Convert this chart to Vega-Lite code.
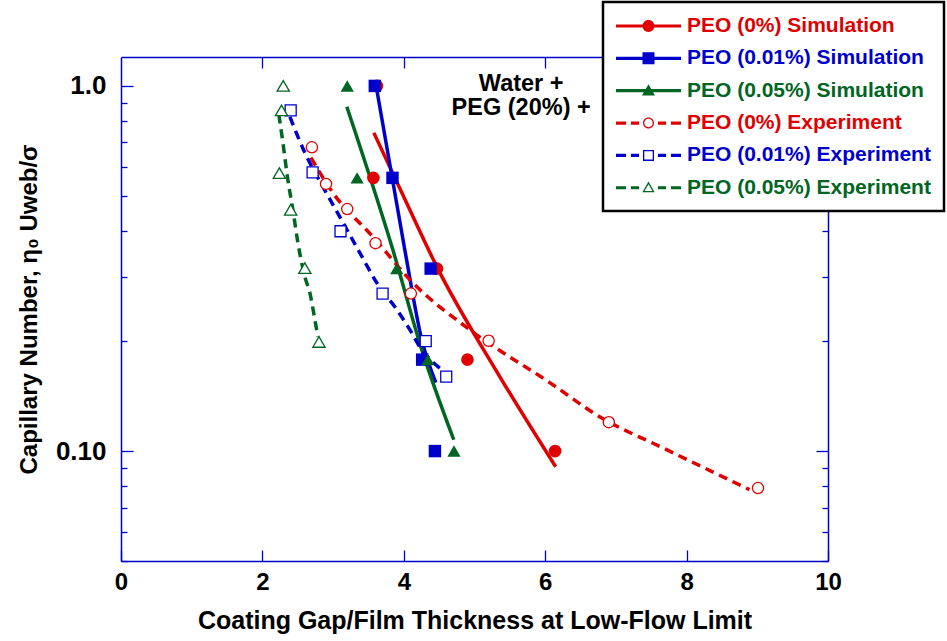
{
  "$schema": "https://vega.github.io/schema/vega-lite/v6.json",
  "width": 707,
  "height": 504,
  "autosize": {"type": "none"},
  "padding": {"left": 121, "top": 57, "right": 119, "bottom": 80},
  "background": "white",
  "config": {
    "view": {"stroke": null},
    "font": "Liberation Sans",
    "legend": {"strokeWidth": 2.5},
    "axis": {
      "domainColor": "#0000cc",
      "domainWidth": 1.5,
      "tickColor": "#0000cc",
      "tickWidth": 1.3,
      "grid": false,
      "labelColor": "black",
      "titleColor": "black",
      "labelFontWeight": "bold",
      "titleFontWeight": "bold",
      "labelFont": "Liberation Sans",
      "titleFont": "Liberation Sans"
    }
  },
  "datasets": {
    "simPts": [
      {"series": "PEO (0%) Simulation", "x": 3.62, "y": 1.0},
      {"series": "PEO (0%) Simulation", "x": 3.57, "y": 0.56},
      {"series": "PEO (0%) Simulation", "x": 4.47, "y": 0.316},
      {"series": "PEO (0%) Simulation", "x": 4.90, "y": 0.178},
      {"series": "PEO (0%) Simulation", "x": 6.14, "y": 0.1},
      {"series": "PEO (0.01%) Simulation", "x": 3.59, "y": 1.0},
      {"series": "PEO (0.01%) Simulation", "x": 3.84, "y": 0.56},
      {"series": "PEO (0.01%) Simulation", "x": 4.38, "y": 0.316},
      {"series": "PEO (0.01%) Simulation", "x": 4.26, "y": 0.178},
      {"series": "PEO (0.01%) Simulation", "x": 4.44, "y": 0.1},
      {"series": "PEO (0.05%) Simulation", "x": 3.20, "y": 1.0},
      {"series": "PEO (0.05%) Simulation", "x": 3.34, "y": 0.56},
      {"series": "PEO (0.05%) Simulation", "x": 3.90, "y": 0.316},
      {"series": "PEO (0.05%) Simulation", "x": 4.34, "y": 0.178},
      {"series": "PEO (0.05%) Simulation", "x": 4.71, "y": 0.1}
    ],
    "expPts": [
      {"series": "PEO (0%) Experiment", "x": 2.70, "y": 0.679},
      {"series": "PEO (0%) Experiment", "x": 2.90, "y": 0.539},
      {"series": "PEO (0%) Experiment", "x": 3.20, "y": 0.460},
      {"series": "PEO (0%) Experiment", "x": 3.60, "y": 0.371},
      {"series": "PEO (0%) Experiment", "x": 4.10, "y": 0.270},
      {"series": "PEO (0%) Experiment", "x": 5.20, "y": 0.2005},
      {"series": "PEO (0%) Experiment", "x": 6.90, "y": 0.120},
      {"series": "PEO (0%) Experiment", "x": 9.01, "y": 0.0792},
      {"series": "PEO (0.01%) Experiment", "x": 2.40, "y": 0.857},
      {"series": "PEO (0.01%) Experiment", "x": 2.71, "y": 0.580},
      {"series": "PEO (0.01%) Experiment", "x": 3.105, "y": 0.40},
      {"series": "PEO (0.01%) Experiment", "x": 3.70, "y": 0.270},
      {"series": "PEO (0.01%) Experiment", "x": 4.31, "y": 0.20},
      {"series": "PEO (0.01%) Experiment", "x": 4.60, "y": 0.160},
      {"series": "PEO (0.05%) Experiment", "x": 2.295, "y": 1.0},
      {"series": "PEO (0.05%) Experiment", "x": 2.27, "y": 0.857},
      {"series": "PEO (0.05%) Experiment", "x": 2.24, "y": 0.577},
      {"series": "PEO (0.05%) Experiment", "x": 2.40, "y": 0.458},
      {"series": "PEO (0.05%) Experiment", "x": 2.60, "y": 0.317},
      {"series": "PEO (0.05%) Experiment", "x": 2.80, "y": 0.199}
    ],
    "simCurves": [
      {"series": "PEO (0%) Simulation", "x": 3.576, "y": 0.744},
      {"series": "PEO (0%) Simulation", "x": 4.04, "y": 0.478},
      {"series": "PEO (0%) Simulation", "x": 4.466, "y": 0.320},
      {"series": "PEO (0%) Simulation", "x": 5.357, "y": 0.160},
      {"series": "PEO (0%) Simulation", "x": 6.148, "y": 0.0906},
      {"series": "PEO (0.01%) Simulation", "x": 3.618, "y": 0.976},
      {"series": "PEO (0.01%) Simulation", "x": 4.014, "y": 0.356},
      {"series": "PEO (0.01%) Simulation", "x": 4.254, "y": 0.2018},
      {"series": "PEO (0.01%) Simulation", "x": 4.452, "y": 0.154},
      {"series": "PEO (0.05%) Simulation", "x": 3.194, "y": 0.877},
      {"series": "PEO (0.05%) Simulation", "x": 3.845, "y": 0.356},
      {"series": "PEO (0.05%) Simulation", "x": 4.254, "y": 0.1896},
      {"series": "PEO (0.05%) Simulation", "x": 4.707, "y": 0.1074}
    ],
    "expCurves": [
      {"series": "PEO (0%) Experiment", "x": 2.686, "y": 0.636},
      {"series": "PEO (0%) Experiment", "x": 2.996, "y": 0.510},
      {"series": "PEO (0%) Experiment", "x": 3.562, "y": 0.3865},
      {"series": "PEO (0%) Experiment", "x": 4.127, "y": 0.289},
      {"series": "PEO (0%) Experiment", "x": 4.933, "y": 0.215},
      {"series": "PEO (0%) Experiment", "x": 6.064, "y": 0.154},
      {"series": "PEO (0%) Experiment", "x": 6.770, "y": 0.1242},
      {"series": "PEO (0%) Experiment", "x": 7.717, "y": 0.1009},
      {"series": "PEO (0%) Experiment", "x": 8.890, "y": 0.0784},
      {"series": "PEO (0.01%) Experiment", "x": 2.389, "y": 0.823},
      {"series": "PEO (0.01%) Experiment", "x": 2.601, "y": 0.656},
      {"series": "PEO (0.01%) Experiment", "x": 2.855, "y": 0.530},
      {"series": "PEO (0.01%) Experiment", "x": 3.095, "y": 0.438},
      {"series": "PEO (0.01%) Experiment", "x": 3.378, "y": 0.349},
      {"series": "PEO (0.01%) Experiment", "x": 3.618, "y": 0.289},
      {"series": "PEO (0.01%) Experiment", "x": 3.901, "y": 0.244},
      {"series": "PEO (0.01%) Experiment", "x": 4.085, "y": 0.215},
      {"series": "PEO (0.01%) Experiment", "x": 4.226, "y": 0.193},
      {"series": "PEO (0.01%) Experiment", "x": 4.537, "y": 0.167},
      {"series": "PEO (0.05%) Experiment", "x": 2.233, "y": 0.834},
      {"series": "PEO (0.05%) Experiment", "x": 2.290, "y": 0.699},
      {"series": "PEO (0.05%) Experiment", "x": 2.360, "y": 0.553},
      {"series": "PEO (0.05%) Experiment", "x": 2.431, "y": 0.458},
      {"series": "PEO (0.05%) Experiment", "x": 2.502, "y": 0.372},
      {"series": "PEO (0.05%) Experiment", "x": 2.601, "y": 0.300},
      {"series": "PEO (0.05%) Experiment", "x": 2.671, "y": 0.2715},
      {"series": "PEO (0.05%) Experiment", "x": 2.742, "y": 0.229},
      {"series": "PEO (0.05%) Experiment", "x": 2.784, "y": 0.2057}
    ],
    "notes": [
      {"text": "Water +|PEG (20%) +", "x": 5.66, "y": 0.9665}
    ]
  },
  "layer": [
    {
      "data": {"name": "simPts"},
      "mark": {"type": "point", "opacity": 0},
      "encoding": {
        "x": {"field": "x", "type": "quantitative", "scale": {"domain": [0, 10], "nice": false, "zero": false},
          "axis": {"orient": "bottom", "values": [0, 2, 4, 6, 8, 10], "tickSize": -11, "labelPadding": 20, "labelFontSize": 24, "labelFont": "Liberation Sans Narrow, Liberation Sans", "labelFlush": false, "format": "d", "title": "Coating Gap/Film Thickness at Low-Flow Limit", "titleFontSize": 25, "titlePadding": 14}},
        "y": {"field": "y", "type": "quantitative", "scale": {"type": "log", "domain": [0.05, 1.2], "nice": false},
          "axis": {"orient": "left", "values": [0.1, 1], "tickSize": -12, "labelPadding": 27, "labelFontSize": 26, "labelExpr": "datum.value >= 1 ? '1.0' : '0.10'", "title": "Capillary Number, η₀ Uweb/σ", "titleFontSize": 24, "titlePadding": 14}}
      }
    },
    {
      "data": {"name": "simPts"},
      "mark": {"type": "point", "opacity": 0},
      "encoding": {
        "x": {"field": "x", "type": "quantitative", "scale": {"domain": [0, 10], "nice": false, "zero": false},
          "axis": {"orient": "top", "values": [2, 4, 6, 8], "tickSize": -11, "labels": false, "title": null}},
        "y": {"field": "y", "type": "quantitative", "scale": {"type": "log", "domain": [0.05, 1.2], "nice": false},
          "axis": {"orient": "right", "values": [0.1, 1], "tickSize": -12, "labels": false, "title": null}}
      }
    },
    {
      "data": {"name": "simPts"},
      "mark": {"type": "point", "opacity": 0},
      "encoding": {
        "x": {"field": "x", "type": "quantitative", "scale": {"domain": [0, 10], "nice": false, "zero": false}, "axis": null},
        "y": {"field": "y", "type": "quantitative", "scale": {"type": "log", "domain": [0.05, 1.2], "nice": false},
          "axis": {"orient": "left", "values": [0.05, 0.06, 0.07, 0.08, 0.09, 0.2, 0.3, 0.4, 0.5, 0.6, 0.7, 0.8, 0.9], "tickSize": -6, "labels": false, "domain": false, "title": null}}
      }
    },
    {
      "data": {"name": "simPts"},
      "mark": {"type": "point", "opacity": 0},
      "encoding": {
        "x": {"field": "x", "type": "quantitative", "scale": {"domain": [0, 10], "nice": false, "zero": false}, "axis": null},
        "y": {"field": "y", "type": "quantitative", "scale": {"type": "log", "domain": [0.05, 1.2], "nice": false},
          "axis": {"orient": "right", "values": [0.05, 0.06, 0.07, 0.08, 0.09, 0.2, 0.3, 0.4, 0.5, 0.6, 0.7, 0.8, 0.9], "tickSize": -6, "labels": false, "domain": false, "title": null}}
      }
    },
    {
      "data": {"name": "notes"},
      "mark": {"type": "text", "fontSize": 23.5, "fontWeight": "bold", "align": "center", "baseline": "alphabetic", "fill": "black", "font": "Liberation Sans", "lineBreak": "|", "lineHeight": 24},
      "encoding": {
        "x": {"field": "x", "type": "quantitative", "scale": {"domain": [0, 10], "nice": false, "zero": false}, "axis": null},
        "y": {"field": "y", "type": "quantitative", "scale": {"type": "log", "domain": [0.05, 1.2], "nice": false}, "axis": null},
        "text": {"field": "text"}
      }
    },
    {
      "data": {"name": "simCurves"},
      "mark": {"type": "line", "strokeWidth": 3.5, "interpolate": "monotone"},
      "encoding": {
        "x": {"field": "x", "type": "quantitative", "scale": {"domain": [0, 10], "nice": false, "zero": false}, "axis": null},
        "y": {"field": "y", "type": "quantitative", "scale": {"type": "log", "domain": [0.05, 1.2], "nice": false}, "axis": null},
        "color": {"field": "series", "type": "nominal",
          "scale": {"domain": ["PEO (0%) Simulation", "PEO (0.01%) Simulation", "PEO (0.05%) Simulation", "PEO (0%) Experiment", "PEO (0.01%) Experiment", "PEO (0.05%) Experiment"],
                    "range": ["#e00000", "#0000cc", "#006622", "#e00000", "#0000cc", "#006622"]},
          "legend": {
            "orient": "none", "legendX": 482, "legendY": -55, "title": null,
            "symbolSize": 462.25, "symbolStrokeWidth": 0, "symbolOffset": 21.5,
            "symbolFillColor": {"expr": "scale('color', datum.value)"},
            "symbolType": {"expr": "datum.value == 'PEO (0%) Simulation' ? 'M-3.023,-0.149H3.023V0.149H-3.023ZM0.558,0C0.558,0.308,0.308,0.558,0,0.558C-0.308,0.558,-0.558,0.308,-0.558,0C-0.558,-0.308,-0.308,-0.558,0,-0.558C0.308,-0.558,0.558,-0.308,0.558,0Z' : datum.value == 'PEO (0.01%) Simulation' ? 'M-3.023,-0.149H3.023V0.149H-3.023ZM-0.558,-0.558H0.558V0.558H-0.558Z' : datum.value == 'PEO (0.05%) Simulation' ? 'M-3.023,-0.149H3.023V0.149H-3.023ZM0,-0.605L0.605,0.453L-0.605,0.453Z' : datum.value == 'PEO (0%) Experiment' ? 'M-3.023,-0.149H-2.086V0.149H-3.023ZM-1.633,-0.149H-0.877V0.149H-1.633ZM0.877,-0.149H1.633V0.149H0.877ZM2.086,-0.149H3.023V0.149H2.086ZM0.512,0C0.512,0.283,0.283,0.512,0,0.512C-0.283,0.512,-0.512,0.283,-0.512,0C-0.512,-0.283,-0.283,-0.512,0,-0.512C0.283,-0.512,0.512,-0.283,0.512,0ZM0.391,0C0.391,-0.216,0.216,-0.391,0,-0.391C-0.216,-0.391,-0.391,-0.216,-0.391,0C-0.391,0.216,-0.216,0.391,0,0.391C0.216,0.391,0.391,0.216,0.391,0Z' : datum.value == 'PEO (0.01%) Experiment' ? 'M-3.023,-0.149H-2.086V0.149H-3.023ZM-1.633,-0.149H-0.877V0.149H-1.633ZM0.877,-0.149H1.633V0.149H0.877ZM2.086,-0.149H3.023V0.149H2.086ZM-0.512,-0.512H0.512V0.512H-0.512ZM-0.391,-0.391V0.391H0.391V-0.391Z' : 'M-3.023,-0.149H-2.086V0.149H-3.023ZM-1.633,-0.149H-0.877V0.149H-1.633ZM0.877,-0.149H1.633V0.149H0.877ZM2.086,-0.149H3.023V0.149H2.086ZM0,-0.574L0.574,0.423L-0.574,0.423ZM0,-0.333L-0.366,0.302L0.366,0.302Z'"},
            "labelFont": "Liberation Sans", "labelFontSize": 21, "labelFontWeight": "bold", "labelOffset": 27.5, "labelLimit": 400,
            "labelColor": {"expr": "scale('color', datum.value)"},
            "rowPadding": 11.35, "padding": 13,
            "fillColor": "white", "strokeColor": "black"
          }
        }
      }
    },
    {
      "data": {"name": "expCurves"},
      "mark": {"type": "line", "strokeWidth": 3.5, "interpolate": "monotone", "strokeDash": [9, 6]},
      "encoding": {
        "x": {"field": "x", "type": "quantitative", "scale": {"domain": [0, 10], "nice": false, "zero": false}, "axis": null},
        "y": {"field": "y", "type": "quantitative", "scale": {"type": "log", "domain": [0.05, 1.2], "nice": false}, "axis": null},
        "color": {"field": "series", "type": "nominal", "legend": null}
      }
    },
    {
      "data": {"name": "simPts"},
      "transform": [{"filter": "datum.series == 'PEO (0%) Simulation'"}],
      "mark": {"type": "point", "shape": "circle", "filled": true, "opacity": 1, "size": 160},
      "encoding": {
        "x": {"field": "x", "type": "quantitative", "scale": {"domain": [0, 10], "nice": false, "zero": false}, "axis": null},
        "y": {"field": "y", "type": "quantitative", "scale": {"type": "log", "domain": [0.05, 1.2], "nice": false}, "axis": null},
        "color": {"field": "series", "type": "nominal", "legend": null}
      }
    },
    {
      "data": {"name": "simPts"},
      "transform": [{"filter": "datum.series == 'PEO (0.01%) Simulation'"}],
      "mark": {"type": "point", "shape": "square", "filled": true, "opacity": 1, "size": 155},
      "encoding": {
        "x": {"field": "x", "type": "quantitative", "scale": {"domain": [0, 10], "nice": false, "zero": false}, "axis": null},
        "y": {"field": "y", "type": "quantitative", "scale": {"type": "log", "domain": [0.05, 1.2], "nice": false}, "axis": null},
        "color": {"field": "series", "type": "nominal", "legend": null}
      }
    },
    {
      "data": {"name": "simPts"},
      "transform": [{"filter": "datum.series == 'PEO (0.05%) Simulation'"}],
      "mark": {"type": "point", "shape": "triangle-up", "filled": true, "opacity": 1, "size": 175},
      "encoding": {
        "x": {"field": "x", "type": "quantitative", "scale": {"domain": [0, 10], "nice": false, "zero": false}, "axis": null},
        "y": {"field": "y", "type": "quantitative", "scale": {"type": "log", "domain": [0.05, 1.2], "nice": false}, "axis": null},
        "color": {"field": "series", "type": "nominal", "legend": null}
      }
    },
    {
      "data": {"name": "expPts"},
      "transform": [{"filter": "datum.series == 'PEO (0%) Experiment'"}],
      "mark": {"type": "point", "shape": "circle", "filled": false, "fill": "white", "opacity": 1, "size": 125, "strokeWidth": 1.3},
      "encoding": {
        "x": {"field": "x", "type": "quantitative", "scale": {"domain": [0, 10], "nice": false, "zero": false}, "axis": null},
        "y": {"field": "y", "type": "quantitative", "scale": {"type": "log", "domain": [0.05, 1.2], "nice": false}, "axis": null},
        "color": {"field": "series", "type": "nominal", "legend": null}
      }
    },
    {
      "data": {"name": "expPts"},
      "transform": [{"filter": "datum.series == 'PEO (0.01%) Experiment'"}],
      "mark": {"type": "point", "shape": "square", "filled": false, "fill": "white", "opacity": 1, "size": 121, "strokeWidth": 1.3},
      "encoding": {
        "x": {"field": "x", "type": "quantitative", "scale": {"domain": [0, 10], "nice": false, "zero": false}, "axis": null},
        "y": {"field": "y", "type": "quantitative", "scale": {"type": "log", "domain": [0.05, 1.2], "nice": false}, "axis": null},
        "color": {"field": "series", "type": "nominal", "legend": null}
      }
    },
    {
      "data": {"name": "expPts"},
      "transform": [{"filter": "datum.series == 'PEO (0.05%) Experiment'"}],
      "mark": {"type": "point", "shape": "triangle-up", "filled": false, "fill": "white", "opacity": 1, "size": 150, "strokeWidth": 1.3},
      "encoding": {
        "x": {"field": "x", "type": "quantitative", "scale": {"domain": [0, 10], "nice": false, "zero": false}, "axis": null},
        "y": {"field": "y", "type": "quantitative", "scale": {"type": "log", "domain": [0.05, 1.2], "nice": false}, "axis": null},
        "color": {"field": "series", "type": "nominal", "legend": null}
      }
    }
  ],
  "resolve": {"axis": {"x": "independent", "y": "independent"}}
}
